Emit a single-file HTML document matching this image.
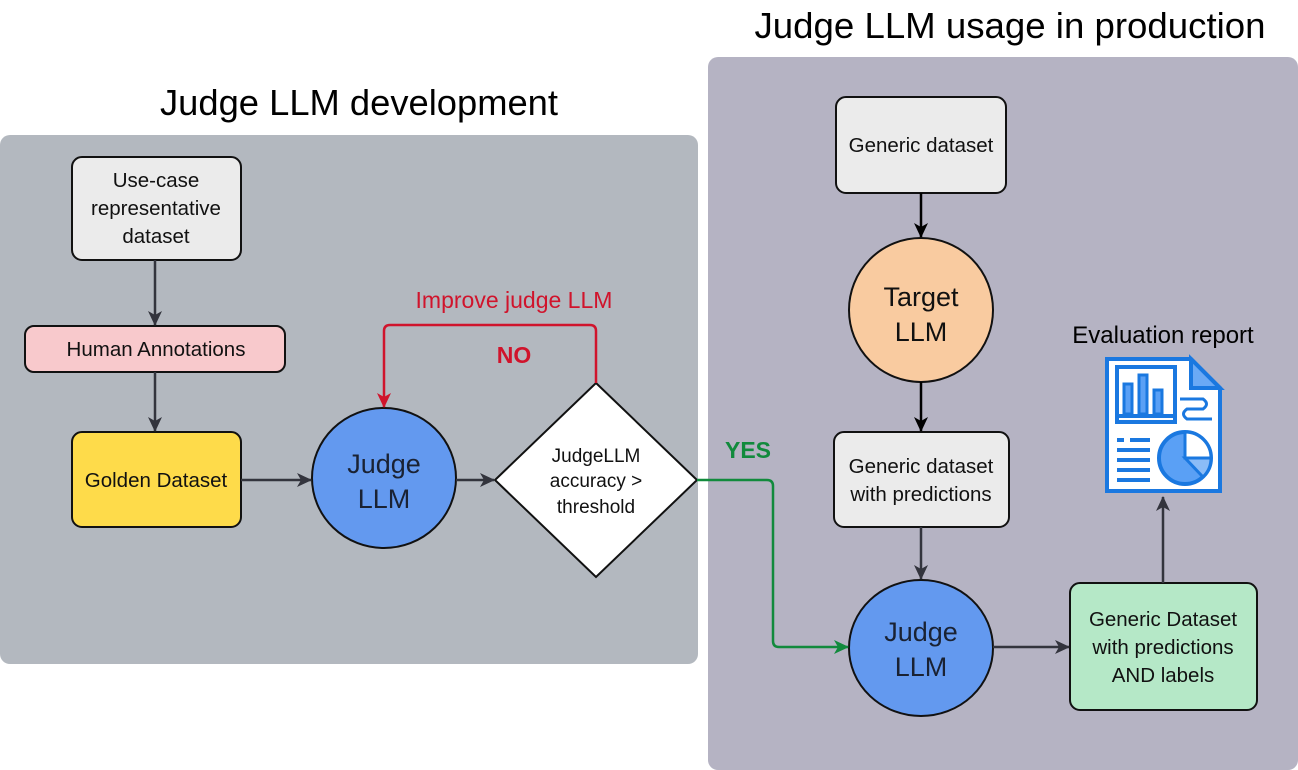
<!DOCTYPE html>
<html><head><meta charset="utf-8"><style>
html,body{margin:0;padding:0;background:#fff;}
svg{display:block;font-family:"Liberation Sans","DejaVu Sans",sans-serif;}
</style></head><body>
<svg width="1298" height="770" viewBox="0 0 1298 770" xmlns="http://www.w3.org/2000/svg">
<defs>
<marker id="ad" markerWidth="15" markerHeight="14" refX="14" refY="7" orient="auto" markerUnits="userSpaceOnUse"><path d="M0,0 L15,7 L0,14 L4,7 z" fill="#33343d"/></marker>
<marker id="ab" markerWidth="15" markerHeight="14" refX="14" refY="7" orient="auto" markerUnits="userSpaceOnUse"><path d="M0,0 L15,7 L0,14 L4,7 z" fill="#000"/></marker>
<marker id="ar" markerWidth="15" markerHeight="14" refX="14" refY="7" orient="auto" markerUnits="userSpaceOnUse"><path d="M0,0 L15,7 L0,14 L4,7 z" fill="#d0142c"/></marker>
<marker id="ag" markerWidth="15" markerHeight="14" refX="14" refY="7" orient="auto" markerUnits="userSpaceOnUse"><path d="M0,0 L15,7 L0,14 L4,7 z" fill="#118a3c"/></marker>
</defs>
<rect x="0" y="135" width="698" height="529" rx="10" fill="#b3b8bf"/>
<rect x="708" y="57" width="590" height="713" rx="10" fill="#b5b3c3"/>
<text x="359" y="115" font-size="36" text-anchor="middle" fill="#000" textLength="398" lengthAdjust="spacingAndGlyphs">Judge LLM development</text>
<text x="1010" y="38" font-size="36" text-anchor="middle" fill="#000" textLength="511" lengthAdjust="spacingAndGlyphs">Judge LLM usage in production</text>

<g stroke="#111" stroke-width="2">
<rect x="72" y="157" width="169" height="103" rx="10" fill="#ebebeb"/>
<rect x="25" y="326" width="260" height="46" rx="9" fill="#f8c9cc"/>
<rect x="72" y="432" width="169" height="95" rx="10" fill="#fedb4a"/>
<ellipse cx="384" cy="478" rx="72" ry="70" fill="#6399ef"/>
<polygon points="596,383 697,480 596,577 495,480" fill="#fff"/>
<rect x="836" y="97" width="170" height="96" rx="10" fill="#ebebeb"/>
<ellipse cx="921" cy="310" rx="72" ry="72" fill="#f9cba0"/>
<rect x="834" y="432" width="175" height="95" rx="10" fill="#ebebeb"/>
<ellipse cx="921" cy="648" rx="72" ry="68" fill="#6399ef"/>
<rect x="1070" y="583" width="187" height="127" rx="10" fill="#b5e8c7"/>
</g>

<g fill="none" stroke-width="2.5">
<line x1="155" y1="260" x2="155" y2="325" stroke="#33343d" marker-end="url(#ad)"/>
<line x1="155" y1="372" x2="155" y2="431" stroke="#33343d" marker-end="url(#ad)"/>
<line x1="241" y1="480" x2="311" y2="480" stroke="#33343d" marker-end="url(#ad)"/>
<line x1="456" y1="480" x2="494" y2="480" stroke="#33343d" marker-end="url(#ad)"/>
<path d="M596,383 V331 Q596,325 590,325 H390 Q384,325 384,331 V407" stroke="#d0142c" marker-end="url(#ar)"/>
<path d="M697,480 H767 Q773,480 773,486 V641 Q773,647 779,647 H848" stroke="#118a3c" marker-end="url(#ag)"/>
<line x1="921" y1="193" x2="921" y2="237" stroke="#000" marker-end="url(#ab)"/>
<line x1="921" y1="382" x2="921" y2="431" stroke="#000" marker-end="url(#ab)"/>
<line x1="921" y1="527" x2="921" y2="579" stroke="#33343d" marker-end="url(#ad)"/>
<line x1="993" y1="647" x2="1069" y2="647" stroke="#33343d" marker-end="url(#ad)"/>
<line x1="1163" y1="583" x2="1163" y2="497" stroke="#33343d" marker-end="url(#ad)"/>
</g>

<g font-size="20.5" text-anchor="middle" fill="#111">
<text x="156" y="187">Use-case</text>
<text x="156" y="215">representative</text>
<text x="156" y="243">dataset</text>
<text x="156" y="356">Human Annotations</text>
<text x="156" y="487">Golden Dataset</text>
<text x="384" y="473" font-size="27" fill="#1a2233">Judge</text>
<text x="384" y="508" font-size="27" fill="#1a2233">LLM</text>
<text x="596" y="462" font-size="19">JudgeLLM</text>
<text x="596" y="487" font-size="19">accuracy &gt;</text>
<text x="596" y="513" font-size="19">threshold</text>
<text x="514" y="308" font-size="23" fill="#d0142c">Improve judge LLM</text>
<text x="514" y="363" font-size="23" font-weight="bold" fill="#d0142c">NO</text>
<text x="748" y="458" font-size="23" font-weight="bold" fill="#118a3c">YES</text>
<text x="921" y="152">Generic dataset</text>
<text x="921" y="306" font-size="27">Target</text>
<text x="921" y="341" font-size="27">LLM</text>
<text x="921" y="473">Generic dataset</text>
<text x="921" y="501">with predictions</text>
<text x="921" y="641" font-size="27" fill="#1a2233">Judge</text>
<text x="921" y="676" font-size="27" fill="#1a2233">LLM</text>
<text x="1163" y="626">Generic Dataset</text>
<text x="1163" y="654">with predictions</text>
<text x="1163" y="682">AND labels</text>
<text x="1163" y="343" font-size="24" fill="#000">Evaluation report</text>
</g>

<g stroke="#1a78e0" stroke-width="4" fill="none">
<path d="M1107,359 H1191 L1220,388 V491 H1107 Z" fill="#fff"/>
<path d="M1191,359 V388 H1220 Z" fill="#6aa9f5"/>
<rect x="1117" y="367" width="58" height="55" fill="#fff"/>
<rect x="1124" y="384" width="8" height="30" fill="#5aa0f5" stroke-width="3"/>
<rect x="1139" y="375" width="8" height="39" fill="#5aa0f5" stroke-width="3"/>
<rect x="1154" y="390" width="8" height="24" fill="#5aa0f5" stroke-width="3"/>
<line x1="1117" y1="416" x2="1175" y2="416"/>
<path d="M1180,399 H1203 Q1210,404 1203,409 H1187 Q1180,414 1187,419 H1212" stroke-width="3"/>
<line x1="1117" y1="440" x2="1124" y2="440"/><line x1="1130" y1="440" x2="1150" y2="440"/>
<line x1="1117" y1="450" x2="1150" y2="450"/>
<line x1="1117" y1="460" x2="1150" y2="460"/>
<line x1="1117" y1="470" x2="1150" y2="470"/>
<line x1="1117" y1="480" x2="1150" y2="480"/>
<circle cx="1185" cy="458" r="26" fill="#5aa0f5"/>
<path d="M1185,432 A26,26 0 0 1 1211,458 H1185 Z" fill="#fff" stroke-width="3"/>
<path d="M1185,458 H1211 A26,26 0 0 1 1203,477 Z" fill="#8bbcf7" stroke-width="3"/>
</g>
</svg>
</body></html>
